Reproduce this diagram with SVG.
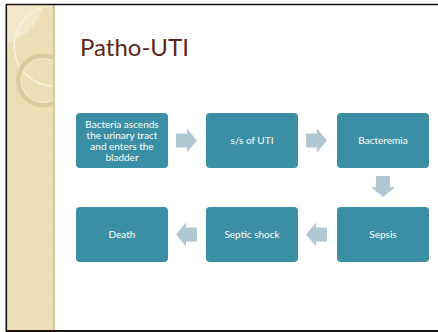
<svg xmlns="http://www.w3.org/2000/svg" width="438" height="332" viewBox="0 0 438 332">
  <defs>
    <style>
      .box { fill: #3a8fa5; }
      .arrow { fill: #b0c8d3; }
      .lbl { font-family: Lato, "Open Sans", "DejaVu Sans", sans-serif; font-size: 10px; fill: #ffffff; text-anchor: middle; }
      .title { font-family: Lato, "Open Sans", "DejaVu Sans", sans-serif; font-size: 24px; fill: #5e2619; }
    </style>
    <pattern id="dots" width="3" height="3" patternUnits="userSpaceOnUse">
      <rect width="3" height="3" fill="#efdfb6"/>
      <rect x="1" y="1" width="1" height="1" fill="#e9d6a8"/>
    </pattern>
    <clipPath id="stripClip">
      <rect x="7" y="5" width="48" height="326"/>
    </clipPath>
    <!-- block arrow pointing right, tip at x=21, centred on y=0 -->
    <polygon id="arr" points="0,-7 11,-7 11,-12 21,0 11,12 11,7 0,7"/>
  </defs>

  <!-- slide background -->
  <rect x="0" y="0" width="438" height="332" fill="#ffffff"/>

  <!-- decorative side strip -->
  <g id="strip">
    <rect x="7" y="5" width="48" height="326" fill="url(#dots)"/>
    <g clip-path="url(#stripClip)">
      <circle cx="-10" cy="-10" r="56" fill="#f6ecd3" opacity="0.75"/>
      <circle cx="54" cy="46" r="40" fill="none" stroke="#fbf5e6" stroke-width="1.2"/>
      <circle cx="43" cy="80.5" r="24.5" fill="none" stroke="#ddcba0" stroke-width="5"/>
      <circle cx="43" cy="80.5" r="22" fill="none" stroke="#f7efd9" stroke-width="1"/>
    </g>
    <rect x="53" y="5" width="2" height="326" fill="#d8c8a0"/>
  </g>

  <!-- slide frame -->
  <g id="frame" stroke="#151515" fill="none">
    <line x1="6" y1="4.5" x2="438" y2="4.5" stroke-width="1.6"/>
    <line x1="6.3" y1="4" x2="6.3" y2="332" stroke-width="1.6"/>
    <line x1="6" y1="331" x2="438" y2="331" stroke-width="1.8"/>
  </g>

  <text class="title" x="80" y="56">Patho-UTI</text>

  <!-- connectors -->
  <g id="connectors">
    <use href="#arr" transform="translate(176,140.5)" class="arrow"/>
    <use href="#arr" transform="translate(306,140.5)" class="arrow"/>
    <use href="#arr" transform="translate(383,176) rotate(90)" class="arrow"/>
    <use href="#arr" transform="translate(327,234.5) rotate(180)" class="arrow"/>
    <use href="#arr" transform="translate(197,234.5) rotate(180)" class="arrow"/>
  </g>

  <g id="n1">
    <rect class="box" x="76" y="113" width="92" height="55" rx="4"/>
    <text class="lbl" x="122" y="127.5">Bacteria ascends</text>
    <text class="lbl" x="122" y="138.8">the urinary tract</text>
    <text class="lbl" x="122" y="150">and enters the</text>
    <text class="lbl" x="122" y="161">bladder</text>
  </g>
  <g id="n2">
    <rect class="box" x="206" y="113" width="92" height="55" rx="4"/>
    <text class="lbl" x="252" y="144">s/s of UTI</text>
  </g>
  <g id="n3">
    <rect class="box" x="337" y="113" width="92" height="55" rx="4"/>
    <text class="lbl" x="383" y="144">Bacteremia</text>
  </g>
  <g id="n4">
    <rect class="box" x="337" y="207" width="92" height="55" rx="4"/>
    <text class="lbl" x="383" y="238">Sepsis</text>
  </g>
  <g id="n5">
    <rect class="box" x="206" y="207" width="92" height="55" rx="4"/>
    <text class="lbl" x="252" y="238">Septic shock</text>
  </g>
  <g id="n6">
    <rect class="box" x="76" y="207" width="92" height="55" rx="4"/>
    <text class="lbl" x="122" y="238">Death</text>
  </g>
</svg>
